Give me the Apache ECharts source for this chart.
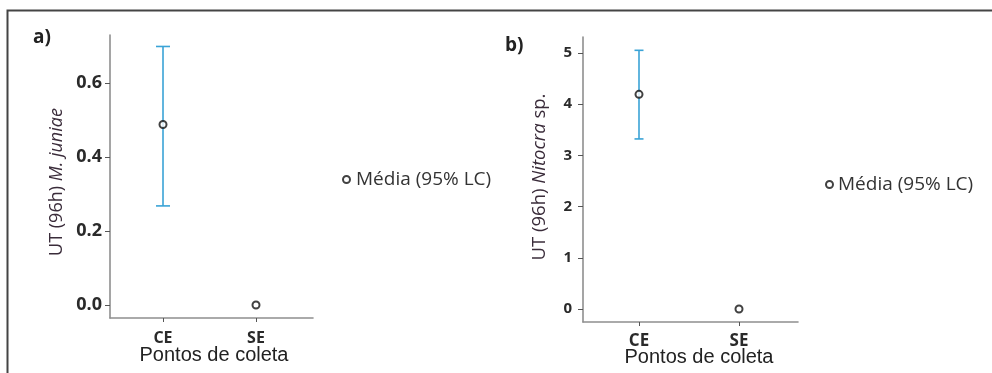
<!DOCTYPE html>
<html>
<head>
<meta charset="utf-8">
<script src="https://cdn.jsdelivr.net/npm/echarts@6/dist/echarts.min.js"></script>
<style>
  html, body { margin: 0; padding: 0; background: #fff; }
  #chart { width: 992px; height: 373px; }
</style>
</head>
<body>
<div id="chart"></div>
<script>
// ---- data ----
const categories = ['CE', 'SE'];
// panel a) UT (96h) M. juniae
const meanA = [0.488, 0.0];
const lowA  = [0.268, 0.0];
const highA = [0.699, 0.0];
const yTicksA = [0.0, 0.2, 0.4, 0.6];
// panel b) UT (96h) Nitocra sp.
const meanB = [4.19, 0.0];
const lowB  = [3.32, 0.0];
const highB = [5.05, 0.0];
const yTicksB = [0, 1, 2, 3, 4, 5];
const legendName = 'Média (95% LC)';

const FONT = 'Open Sans';
const xPos = categories.map((c, i) => i + 1);
const pts = (m) => m.map((v, i) => [xPos[i], v]);
const bars = (lo, hi) => lo.map((v, i) => [xPos[i], v, hi[i]]);

function errorSeries(xi, data, capHalf) {
  return {
    type: 'custom', xAxisIndex: xi, yAxisIndex: xi, silent: true, z: 2,
    data: data,
    renderItem: function (params, api) {
      const x = api.value(0), lo = api.value(1), hi = api.value(2);
      if (lo === hi) return null;
      const p1 = api.coord([x, lo]), p2 = api.coord([x, hi]);
      const st = { stroke: '#3aa3d6', lineWidth: 1.6 };
      return { type: 'group', children: [
        { type: 'line', shape: { x1: p1[0], y1: p1[1], x2: p2[0], y2: p2[1] }, style: st },
        { type: 'line', shape: { x1: p1[0] - capHalf, y1: p1[1], x2: p1[0] + capHalf, y2: p1[1] }, style: st },
        { type: 'line', shape: { x1: p2[0] - capHalf, y1: p2[1], x2: p2[0] + capHalf, y2: p2[1] }, style: st }
      ]};
    }
  };
}

function xAxisCfg(gi, min, max, fs, margin) {
  return {
    type: 'value', gridIndex: gi, min: min, max: max,
    splitLine: { show: false },
    axisLine: { show: true, onZero: false, lineStyle: { color: '#8f8f8f', width: 1.6 } },
    axisTick: { show: true, customValues: xPos, length: 4, lineStyle: { color: '#555' } },
    axisLabel: { customValues: xPos, margin: margin, color: '#2a2a2a', fontFamily: FONT, fontSize: fs, fontWeight: 'bold',
                 formatter: v => categories[Math.round(v) - 1] || '' }
  };
}
function yAxisCfg(gi, min, max, ticks, fs, margin, fmt) {
  return {
    type: 'value', gridIndex: gi, min: min, max: max,
    splitLine: { show: false },
    axisLine: { show: true, onZero: false, lineStyle: { color: '#8f8f8f', width: 1.6 } },
    axisTick: { show: true, customValues: ticks, length: 5, lineStyle: { color: '#555' } },
    axisLabel: { customValues: ticks, margin: margin, color: '#2a2a2a', fontFamily: FONT, fontSize: fs, fontWeight: 'bold',
                 formatter: fmt }
  };
}

const chart = echarts.init(document.getElementById('chart'));
const scatterStyle = { color: '#fff', borderColor: '#111', borderWidth: 2 };
chart.setOption({
  animation: false,
  backgroundColor: '#fff',
  grid: [
    { left: 110, top: 35, width: 203, height: 283 },
    { left: 583, top: 37, width: 215, height: 285 }
  ],
  xAxis: [ xAxisCfg(0, 0.43, 2.613, 16, 12), xAxisCfg(1, 0.44, 2.59, 17, 11) ],
  yAxis: [
    yAxisCfg(0, -0.035, 0.73, yTicksA, 18, 8, v => v.toFixed(1)),
    yAxisCfg(1, -0.254, 5.31, yTicksB, 15, 11, v => String(Math.round(v)))
  ],
  legend: [
    { left: 342, top: 170, padding: 0, itemWidth: 7, itemHeight: 7, itemGap: 0,
      textStyle: { color: '#333', fontFamily: FONT, fontSize: 19, padding: [0, 0, 0, 1] },
      data: [{ name: legendName, icon: 'circle', itemStyle: scatterStyle }] },
    { left: 825, top: 175, padding: 0, itemWidth: 7, itemHeight: 7, itemGap: 0,
      textStyle: { color: '#333', fontFamily: FONT, fontSize: 19, padding: [0, 0, 0, 0] },
      data: [{ name: legendName, icon: 'circle', itemStyle: scatterStyle }] }
  ],
  series: [
    errorSeries(0, bars(lowA, highA), 7),
    errorSeries(1, bars(lowB, highB), 4.5),
    { name: legendName, type: 'scatter', xAxisIndex: 0, yAxisIndex: 0, symbol: 'circle', symbolSize: 7,
      itemStyle: scatterStyle, z: 3, data: pts(meanA) },
    { name: legendName, type: 'scatter', xAxisIndex: 1, yAxisIndex: 1, symbol: 'circle', symbolSize: 7,
      itemStyle: scatterStyle, z: 3, data: pts(meanB) }
  ],
  graphic: [
    { type: 'polyline', silent: true, shape: { points: [[7.5, 400], [7.5, 10.5], [1000, 10.5]] },
      style: { stroke: '#444', lineWidth: 2, fill: null } },
    { type: 'text', x: 33, y: 38, style: { text: 'a)', font: 'bold 19px "Open Sans"', fill: '#222', verticalAlign: 'middle' } },
    { type: 'text', x: 505, y: 46, style: { text: 'b)', font: 'bold 19px "Open Sans"', fill: '#222', verticalAlign: 'middle' } },
    { type: 'text', x: 57, y: 182, rotation: Math.PI / 2,
      style: { text: '{n|UT (96h) }{i|M. juniae}', align: 'center', verticalAlign: 'middle',
        rich: { n: { fontFamily: FONT, fontSize: 18, fill: '#3a2c3a' }, i: { fontFamily: FONT, fontSize: 18, fontStyle: 'italic', fill: '#3a2c3a' } } } },
    { type: 'text', x: 540, y: 177, rotation: Math.PI / 2,
      style: { text: '{n|UT (96h) }{i|Nitocra}{n| sp.}', align: 'center', verticalAlign: 'middle',
        rich: { n: { fontFamily: FONT, fontSize: 18.5, fill: '#3a2c3a' }, i: { fontFamily: FONT, fontSize: 18.5, fontStyle: 'italic', fill: '#3a2c3a' } } } },
    { type: 'text', x: 214, y: 355, style: { text: 'Pontos de coleta', font: '20px "Liberation Sans"', fill: '#222', align: 'center', verticalAlign: 'middle' } },
    { type: 'text', x: 699, y: 357, style: { text: 'Pontos de coleta', font: '20px "Liberation Sans"', fill: '#222', align: 'center', verticalAlign: 'middle' } }
  ]
});
</script>
</body>
</html>
